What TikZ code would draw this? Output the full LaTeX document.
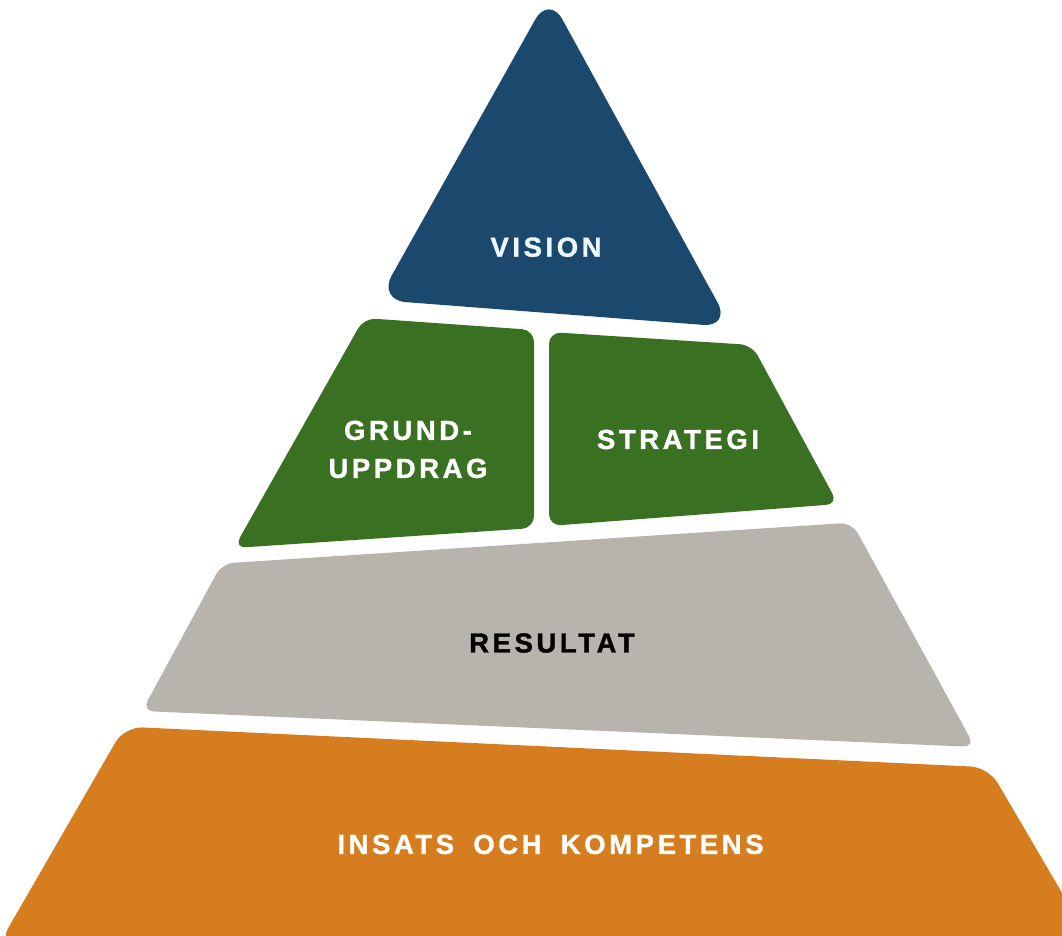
\documentclass[tikz,border=0pt]{standalone}
\usepackage{fontspec}
\setmainfont{Liberation Sans}
\newfontfamily\lblfont[LetterSpace=13, BoldFeatures={FakeBold=1.2}]{Liberation Sans}
\definecolor{vblue}{RGB}{27,73,110}
\definecolor{vgreen}{RGB}{58,112,33}
\definecolor{vgray}{RGB}{184,179,173}
\definecolor{vorange}{RGB}{213,125,31}
\definecolor{vlight}{RGB}{236,247,255}
\begin{document}
\begin{tikzpicture}[x=1pt,y=-1pt,
  lab/.style={font=\lblfont\bfseries\fontsize{27.5}{38}\selectfont, inner sep=0pt, align=center},
  piece/.style={rounded corners=12pt}]
\useasboundingbox (0,0) rectangle (1062,935);
% pieces
\fill[vblue, rounded corners=28pt] (549,-5) -- (731,327) -- (378,300) -- cycle;
\fill[vgreen, piece] (364,318) -- (534,330) -- (534,528) -- (234,548) -- cycle;
\fill[vgreen, piece] (549,332) -- (752,345) -- (838,504) -- (549,526) -- cycle;
\fill[vgray, piece] (222,563.5) -- (852,522.6) -- (975,747) -- (142,711) -- cycle;
\fill[vorange, rounded corners=18pt] (124.5,726.6) -- (988.5,767.3) -- (1092,944) -- (-1,944) -- cycle;
% labels
\node[lab, text=vlight] (vision) at (546,247.2) {VISION};
\node[lab, text=white] (grund) at (408,449.4) {GRUND-\\UPPDRAG};
\node[lab, text=white] (strategi) at (678,439.5) {STRATEGI};
\node[lab, text=black] (resultat) at (552,643) {RESULTAT};
\node[lab, text=white] (insats) at (550.5,844.4) {INSATS\hspace{8pt} OCH\hspace{8pt} KOMPETENS};
\end{tikzpicture}
\end{document}
